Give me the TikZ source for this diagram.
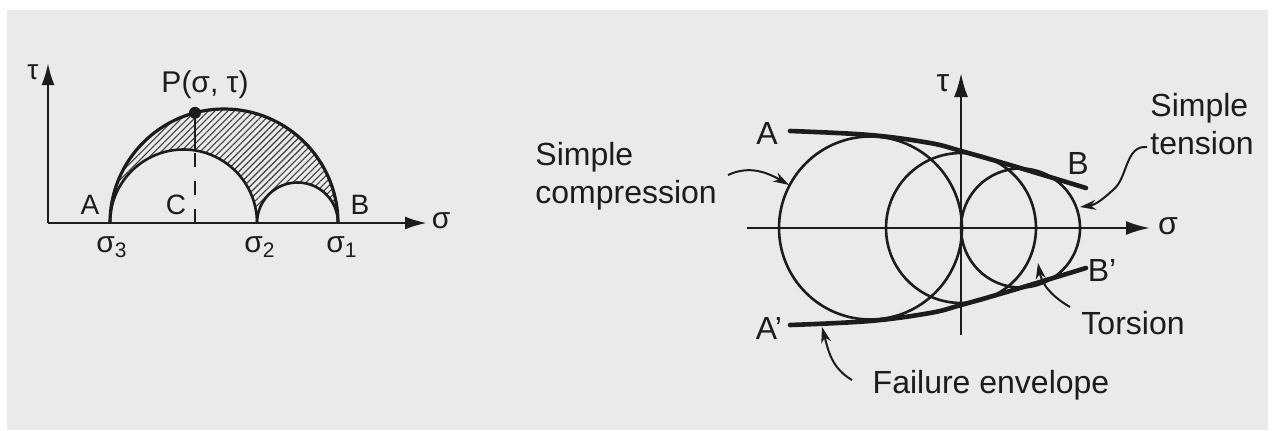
\documentclass[tikz,border=0pt]{standalone}
\usepackage{fontspec}
\setmainfont{Liberation Sans}
\usepackage{tikz}
\usetikzlibrary{arrows.meta,patterns.meta}

\definecolor{paper}{HTML}{EAEAEA}
\definecolor{ink}{HTML}{1C1C1C}

\tikzset{
  axis/.style={line width=1.3pt, draw=ink, -{Latex[length=11pt,width=6.5pt]}},
  circ/.style={line width=1.3pt, draw=ink},
  envelope/.style={line width=2.3pt, draw=ink, line cap=round},
  callout/.style={line width=1pt, draw=ink, -{Stealth[length=8pt,width=5pt]}},
  lbl/.style={font=\fontsize{14}{16}\selectfont, text=ink, inner sep=0pt},
  bigl/.style={font=\fontsize{16}{19}\selectfont, text=ink, inner sep=0pt},
}

\begin{document}
\begin{tikzpicture}[x=0.5pt,y=0.5pt]
  % background
  \useasboundingbox (0,0) rectangle (1277,430);
  \fill[paper] (7,0) rectangle (1268,420);

  % ---- Left: three Mohr circles ----
  \coordinate (O1) at (48,207);
  \coordinate (s3) at (110,207);
  \coordinate (s2) at (257,207);
  \coordinate (s1) at (338,207);
  \coordinate (P) at (195,317.2);
  \coordinate (Cpt) at (195,207);
  \coordinate (Cin) at (195,279.6);

  % hatched region between the outer and the two inner circles
  \fill[pattern={Lines[angle=45,distance=2.3pt,line width=0.55pt]}, pattern color=ink!85]
    (s1) arc[start angle=0, end angle=180, radius=114]
         arc[start angle=180, end angle=0, radius=73.5]
         arc[start angle=180, end angle=0, radius=40.5] -- cycle;
  \draw[circ, line width=1.6pt] (s1) arc[start angle=0, end angle=180, radius=114];
  \draw[circ] (s2) arc[start angle=0, end angle=180, radius=73.5];
  \draw[circ] (s1) arc[start angle=0, end angle=180, radius=40.5];

  % axes
  \draw[axis] (O1) -- (48,367) coordinate (tau1);
  \draw[axis] (O1) -- (427,207) coordinate (sig1);

  % point P and line down to C
  \draw[line width=0.9pt, draw=ink] (P) -- (Cin);
  \draw[line width=0.9pt, draw=ink, dash pattern=on 7pt off 7pt] (Cpt) -- (Cin);
  \fill[ink] (P) circle[radius=6];

  \node[lbl] (ltau) at (33,358) {τ};
  \node[lbl, font=\fontsize{15}{17}\selectfont] (lP) at (205,345) {P(σ, τ)};
  \node[lbl] (lA) at (90,225) {A};
  \node[lbl] (lC) at (176,225) {C};
  \node[lbl] (lB) at (360,225) {B};
  \node[lbl, font=\fontsize{15}{17}\selectfont] (ls3) at (112,183) {σ\textsubscript{3}};
  \node[lbl, font=\fontsize{15}{17}\selectfont] (ls2) at (260,183) {σ\textsubscript{2}};
  \node[lbl, font=\fontsize{15}{17}\selectfont] (ls1) at (342,183) {σ\textsubscript{1}};
  \node[lbl, font=\fontsize{15}{17}\selectfont] (lsig) at (441,209) {σ};

  % ---- Right: failure envelope ----
  \coordinate (O2) at (961,202);
  \draw[axis, -{Latex[length=12pt,width=7pt]}] (747,202) -- (1150,202) coordinate (sig2);
  \draw[axis, -{Latex[length=12pt,width=7pt]}] (961,95) -- (961,357) coordinate (tau2);

  % compression, torsion and tension circles
  \draw[circ] (870.5,202) circle[radius=91.5];
  \draw[circ] (O2) circle[radius=75];
  \draw[circ] (1020.5,202) circle[radius=59.5];

  % envelope
  \draw[envelope] plot[smooth, tension=0.6] coordinates
    {(790,299) (870,295) (930,287) (961,279) (1010,265) (1086,242)};
  \draw[envelope] plot[smooth, tension=0.6] coordinates
    {(790,105) (870,109) (930,117) (961,125) (1010,139) (1086,162)};

  \node[bigl] (rA) at (767,297) {A};
  \node[bigl] (rAp) at (769,102) {A'};
  \node[bigl] (rB) at (1078,267) {B};
  \node[bigl] (rBp) at (1102,160) {B'};
  \node[bigl] (rtau) at (943,347) {τ};
  \node[bigl] (rsig) at (1168,204) {σ};

  \node[bigl, anchor=west, align=left] (comp) at (535,254) {Simple\\compression};
  \node[bigl, anchor=west, align=left] (tens) at (1150,306) {Simple\\tension};
  \node[bigl] (tors) at (1133,107) {Torsion};
  \node[bigl] (fail) at (991,45) {Failure envelope};

  % callout arrows
  \coordinate (compTip) at (789,245);
  \coordinate (tensTip) at (1080,223);
  \coordinate (torsTip) at (1038,167);
  \coordinate (failTip) at (822,103);
  \draw[callout] (728,255) to[out=25, in=150] (compTip);
  \draw[callout] (1147,283) .. controls (1125,285) and (1128,252) .. (1113,240)
                 .. controls (1102,230) and (1095,225) .. (tensTip);
  \draw[callout] (1070,123) to[out=150, in=-80] (torsTip);
  \draw[callout] (852,50) to[out=150, in=-75] (failTip);
\end{tikzpicture}
\end{document}
